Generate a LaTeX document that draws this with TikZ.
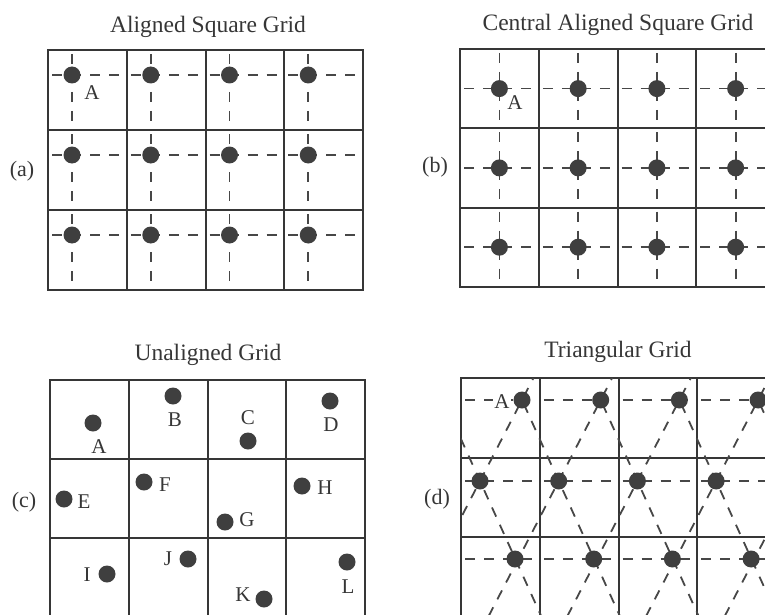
\documentclass[tikz,border=0pt]{standalone}
\usepackage{fontspec}
\setmainfont{Liberation Serif}
\usepackage{tikz}
\usetikzlibrary{calc}
\definecolor{inkgray}{HTML}{363636}
\definecolor{dotgray}{HTML}{3F3F3F}
\definecolor{dashgray}{HTML}{474747}

\begin{document}
\begin{tikzpicture}[x=1pt, y=-1pt,
    cellline/.style={draw=inkgray, line width=2pt},
    guide/.style={draw=dashgray, line width=1.8pt, dash pattern=on 10pt off 9pt, dash phase=15pt},
    dot/.style={circle, fill=dotgray, minimum size=17pt, inner sep=0pt},
    gridtitle/.style={font=\fontsize{23.5}{26}\selectfont, text=inkgray},
    paneltag/.style={font=\fontsize{22}{26}\selectfont, text=inkgray},
    ptlabel/.style={font=\fontsize{21}{24}\selectfont, text=inkgray, inner sep=1pt}
]
\useasboundingbox (0,0) rectangle (765,615);
\clip (0,0) rectangle (765,615);

% (a) Aligned square grid
\node[gridtitle] (title-a) at (208,27) {Aligned Square Grid};
\node[paneltag] (tag-a) at (22,171) {(a)};
\foreach \i in {0,...,3}
  \foreach \j in {0,1,2} {
    \coordinate (ca-\i-\j) at ({48+78.75*\i},{50+80*\j});
    \draw[cellline] (ca-\i-\j) rectangle +(78.75,80);
    \draw[guide] ($(ca-\i-\j)+(0,25)$) -- +(78.75,0);
    \draw[guide] ($(ca-\i-\j)+(24,0)$) -- +(0,80);
    \node[dot] (a-\i-\j) at ($(ca-\i-\j)+(24,25)$) {};
  }
\node[ptlabel] (label-a) at (92,93) {A};

% (b) Central aligned square grid
\node[gridtitle] (title-b) at (618,25) {Central Aligned Square Grid};
\node[paneltag] (tag-b) at (435,167) {(b)};
\foreach \i in {0,...,3}
  \foreach \j in {0,1,2} {
    \coordinate (cb-\i-\j) at ({460+78.75*\i},{49+79.3*\j});
    \draw[cellline] (cb-\i-\j) rectangle +(78.75,79.3);
    \draw[guide] ($(cb-\i-\j)+(0,39.6)$) -- +(78.75,0);
    \draw[guide] ($(cb-\i-\j)+(39.4,0)$) -- +(0,79.3);
    \node[dot] (b-\i-\j) at ($(cb-\i-\j)+(39.4,39.6)$) {};
  }
\node[ptlabel] (label-b) at (515,103) {A};

% (c) Unaligned grid
\node[gridtitle] (title-c) at (208,355) {Unaligned Grid};
\node[paneltag] (tag-c) at (24,502) {(c)};
\foreach \i in {0,...,3}
  \foreach \j in {0,1,2}
    \draw[cellline] ({50+78.75*\i},{380+79*\j}) rectangle +(78.75,79);
\node[dot] (c-a) at (93,423) {};
\node[ptlabel] (lc-a) at (99,447) {A};
\node[dot] (c-b) at (173,396) {};
\node[ptlabel] (lc-b) at (175,420) {B};
\node[dot] (c-c) at (248,441) {};
\node[ptlabel] (lc-c) at (248,418) {C};
\node[dot] (c-d) at (330,401) {};
\node[ptlabel] (lc-d) at (331,425) {D};
\node[dot] (c-e) at (64,499) {};
\node[ptlabel] (lc-e) at (84,502) {E};
\node[dot] (c-f) at (144,482) {};
\node[ptlabel] (lc-f) at (165,485) {F};
\node[dot] (c-g) at (225,522) {};
\node[ptlabel] (lc-g) at (247,520) {G};
\node[dot] (c-h) at (302,486) {};
\node[ptlabel] (lc-h) at (325,488) {H};
\node[dot] (c-i) at (107,574) {};
\node[ptlabel] (lc-i) at (87,575) {I};
\node[dot] (c-j) at (188,559) {};
\node[ptlabel] (lc-j) at (168,559) {J};
\node[dot] (c-k) at (264,599) {};
\node[ptlabel] (lc-k) at (243,595) {K};
\node[dot] (c-l) at (347,562) {};
\node[ptlabel] (lc-l) at (348,587) {L};

% (d) Triangular grid
\node[gridtitle] (title-d) at (618,352) {Triangular Grid};
\node[paneltag] (tag-d) at (437,499) {(d)};
\foreach \i in {0,...,3}
  \foreach \j in {0,1,2}
    \draw[cellline] ({461+78.75*\i},{378+79.5*\j}) rectangle +(78.75,79.5);
% lattice points
\foreach \k in {-1,...,4} {
  \coordinate (p0-\k) at ({522+78.7*\k},400);
  \coordinate (p1-\k) at ({480+78.7*\k},481);
  \coordinate (p2-\k) at ({515+78.7*\k},559);
}
\begin{scope}
  \clip (461,378) rectangle (780,620);
  \foreach \k in {-1,...,4}
    \draw[guide] ($(p0-\k)!-0.4!(p1-\k)$) -- ($(p0-\k)!3!(p1-\k)$);
  \foreach \k [evaluate=\k as \n using int(\k+1)] in {-1,...,3}
    \draw[guide] (p0-\k) -- ($(p0-\k)!3!(p1-\n)$);
\end{scope}
\foreach \i in {0,...,3} {
  \draw[guide] ({461+78.75*\i},400) -- (p0-\i);
  \draw[guide] ({461+78.75*\i},481) -- +(78.75,0);
  \draw[guide] ({461+78.75*\i},559) -- +(78.75,0);
}
\foreach \k in {0,...,3} {
  \node[dot] (d0-\k) at (p0-\k) {};
  \node[dot] (d1-\k) at (p1-\k) {};
  \node[dot] (d2-\k) at (p2-\k) {};
}
\node[ptlabel, fill=white] (label-d) at (502,402) {A};
\end{tikzpicture}
\end{document}
